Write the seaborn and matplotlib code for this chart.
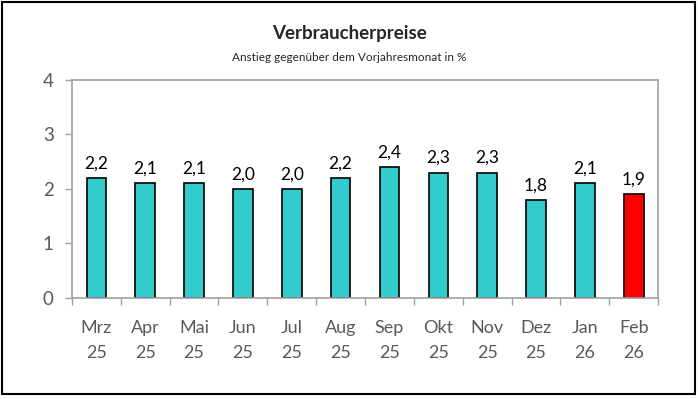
import matplotlib
matplotlib.use("Agg")
import matplotlib.pyplot as plt
import matplotlib.patches as mpatches
import pandas as pd
import seaborn as sns

monate = ["Mrz\n25", "Apr\n25", "Mai\n25", "Jun\n25", "Jul\n25", "Aug\n25",
          "Sep\n25", "Okt\n25", "Nov\n25", "Dez\n25", "Jan\n26", "Feb\n26"]
werte = [2.2, 2.1, 2.1, 2.0, 2.0, 2.2, 2.4, 2.3, 2.3, 1.8, 2.1, 1.9]
farben = ["#33CCCC"] * 11 + ["#FF0000"]

sns.set_style("white")
plt.rcParams["font.family"] = ["Lato", "DejaVu Sans"]

df = pd.DataFrame({"monat": monate, "wert": werte})

fig = plt.figure(figsize=(6.98, 3.99), dpi=100)
ax = fig.add_axes([0.103, 0.253, 0.84, 0.547])

sns.barplot(data=df, x="monat", y="wert", hue="monat", palette=farben,
            legend=False, width=0.4, edgecolor="black", linewidth=1.2,
            saturation=1, ax=ax)

for i, w in enumerate(werte):
    ax.text(i, w + 0.12, f"{w:.1f}".replace(".", ","), ha="center",
            va="bottom", fontsize=12.5, color="black")

ax.set_ylim(0, 4)
ax.set_xlim(-0.5, 11.5)
ax.set_yticks([0, 1, 2, 3, 4])
ax.set_xticks([i - 0.5 for i in range(13)], minor=True)
ax.set_xticks(range(12))
ax.set_xticklabels(monate, fontsize=13, color="#595959", linespacing=1.7)
ax.set_yticklabels(["0", "1", "2", "3", "4"], fontsize=13.5, color="#595959")
ax.tick_params(axis="x", which="major", length=0, pad=16)
ax.tick_params(axis="x", which="minor", length=5, color="#A0A0A0", width=1, bottom=True)
ax.tick_params(axis="y", length=5, color="#A0A0A0", width=1, left=True, pad=8)
ax.set_xlabel("")
ax.set_ylabel("")
for s in ax.spines.values():
    s.set_color("#A0A0A0")
    s.set_linewidth(1.2)

fig.text(0.5, 0.915, "Verbraucherpreise", ha="center", va="center",
         fontsize=13.5, fontweight="bold")
fig.text(0.5, 0.857, "Anstieg gegenüber dem Vorjahresmonat in %", ha="center",
         va="center", fontsize=8.5)

fig.patches.append(mpatches.Rectangle((0.003, 0.012), 0.993, 0.983,
                                      transform=fig.transFigure, fill=False,
                                      edgecolor="black", linewidth=1.5))

fig.savefig("out.png", dpi=100)
